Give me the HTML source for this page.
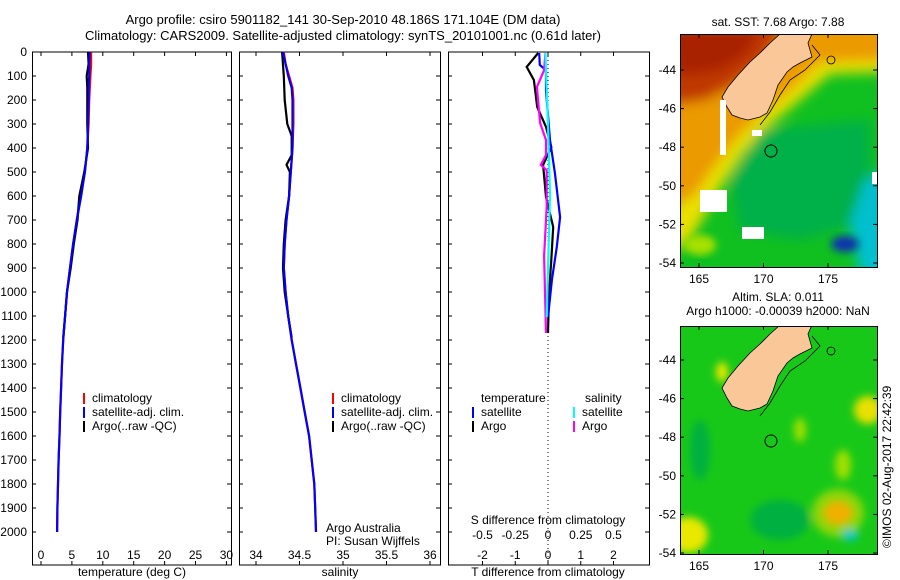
<!DOCTYPE html>
<html><head><meta charset="utf-8"><style>
html,body{margin:0;padding:0;background:#fff;}
svg{display:block;font-family:"Liberation Sans",sans-serif;font-size:12px;}
</style></head><body>
<svg id="fig" width="900" height="580" viewBox="0 0 900 580">
<defs>
<filter id="blur" x="-20%" y="-20%" width="140%" height="140%"><feGaussianBlur stdDeviation="6"/></filter>
<filter id="blur2" x="-20%" y="-20%" width="140%" height="140%"><feGaussianBlur stdDeviation="4"/></filter>
<clipPath id="m1clip"><rect x="680" y="34" width="197" height="233"/></clipPath>
<clipPath id="m2clip"><rect x="680" y="326" width="197" height="228"/></clipPath>
</defs>
<text x="343" y="24" text-anchor="middle" font-size="13">Argo profile: csiro 5901182_141 30-Sep-2010 48.186S 171.104E (DM data)</text>
<text x="343" y="40" text-anchor="middle" font-size="13">Climatology: CARS2009. Satellite-adjusted climatology: synTS_20101001.nc (0.61d later)</text>
<g id="panels"></g>
<g id="maps"></g>
<text transform="translate(891,548) rotate(-90)" font-size="12">©IMOS 02-Aug-2017 22:42:39</text>
</svg>
<script>
// ---- data ----
const depthTicks=[0,100,200,300,400,500,600,700,800,900,1000,1100,1200,1300,1400,1500,1600,1700,1800,1900,2000];
const tDepth=[0,50,100,150,200,300,400,500,600,700,800,900,1000,1100,1200,1300,1400,1500,1600,1700,1800,1900,2000];
const tClim=[8.1,8.1,8.0,7.9,7.8,7.7,7.5,7.1,6.4,5.8,5.2,4.7,4.2,3.9,3.6,3.4,3.25,3.1,3.0,2.85,2.75,2.65,2.6];
const tSat=[7.9,7.8,7.8,7.7,7.7,7.6,7.5,7.1,6.5,5.8,5.2,4.7,4.2,3.9,3.6,3.4,3.25,3.1,3.0,2.85,2.75,2.65,2.6];
const argoDepth=[0,50,100,150,200,300,400,500,600,700,800,900,1000,1100,1190];
const tArgo=[7.6,7.7,7.4,7.5,7.5,7.5,7.6,7.0,6.2,5.9,5.3,4.8,4.2,3.9,3.6];
const sDepth=[0,50,100,150,200,300,400,500,600,700,800,900,1000,1100,1200,1300,1400,1500,1600,1700,1800,1900,2000];
const sClim=[34.32,34.34,34.38,34.42,34.43,34.43,34.42,34.40,34.38,34.35,34.33,34.32,34.34,34.37,34.41,34.46,34.51,34.56,34.61,34.64,34.67,34.68,34.69];
const sSat=[34.31,34.34,34.37,34.41,34.42,34.42,34.42,34.40,34.38,34.35,34.33,34.32,34.34,34.37,34.41,34.46,34.51,34.56,34.61,34.64,34.67,34.68,34.69];
const sArgoDepth=[0,100,200,300,350,430,470,500,600,700,800,900,1000,1100,1190];
const sArgo=[34.30,34.32,34.33,34.36,34.41,34.41,34.35,34.39,34.38,34.34,34.32,34.31,34.33,34.37,34.41];
const dTArgoDepth=[4,62,117,229,312,396,471,604,729,867,1004,1171];
const dTArgo=[-0.3,-0.65,-0.43,-0.33,-0.06,0.1,-0.15,-0.06,0.16,0.1,0.03,0];
const dTSatDepth=[4,54,76,160,367,504,688,812,950,1104];
const dTSat=[-0.27,-0.25,-0.06,-0.06,0.06,0.21,0.37,0.27,0.12,0];
const dSArgoDepth=[4,76,146,296,367,429,471,492,646,850,1171];
const dSArgo=[-0.02,-0.03,-0.085,-0.06,-0.015,-0.015,-0.055,-0.01,-0.01,-0.03,-0.015];
const dSSatDepth=[4,76,300,600,1104];
const dSSat=[-0.02,-0.015,0,0.015,-0.01];
const tTicks=[0,5,10,15,20,25,30];
const sTicks=[34,34.5,35,35.5,36];
const dTTicks=[-2,-1,0,1,2];
const dSTicks=[-0.5,-0.25,0,0.25,0.5];
const dSTickLabels=["-0.5","-0.25","0","0.25","0.5"];
const lonTicks=[165,170,175];
const latTicks=[44,46,48,50,52,54];

const NS="http://www.w3.org/2000/svg";
function mk(tag,attrs,parent){const e=document.createElementNS(NS,tag);for(const k in attrs)e.setAttribute(k,attrs[k]);parent.appendChild(e);return e;}
const P=document.getElementById('panels');
const yD=d=>52+d*0.24;
const xT=v=>41+v*6.18;
const xS=v=>256+(v-34)*87;
const xDT=v=>548+v*32.75;
const xDS=v=>548+v*131;

function panel(name,x0,x1){const r=mk('rect',{x:x0,y:52,width:x1-x0,height:513,fill:'none',stroke:'#000','stroke-width':1},P);

}
panel('temperature-panel',32.5,231.5);panel('salinity-panel',239.5,440.5);panel('difference-panel',448.5,649.5);
depthTicks.forEach(d=>{
 const y=yD(d);
 const t=mk('text',{x:27,y:y+4,'text-anchor':'end'},P);t.textContent=d;
 
 
 [[32,231],[239,440],[448,649]].forEach(([a,b])=>{mk('line',{x1:a,x2:a+4,y1:y,y2:y,stroke:'#000'},P);mk('line',{x1:b-4,x2:b,y1:y,y2:y,stroke:'#000'},P);});
});
function xticks(ticks,fx,labels,ly){ticks.forEach((v,i)=>{const x=fx(v);
 mk('line',{x1:x,x2:x,y1:52,y2:56,stroke:'#000'},P);mk('line',{x1:x,x2:x,y1:561,y2:565,stroke:'#000'},P);
 const t=mk('text',{x:x,y:ly,'text-anchor':'middle'},P);t.textContent=labels?labels[i]:v;
 
 });}
xticks(tTicks,xT,null,559);xticks(sTicks,xS,null,559);xticks(dTTicks,xDT,null,559);
dSTicks.forEach((v,i)=>{const t=mk('text',{x:xDS(v),y:539,'text-anchor':'middle'},P);t.textContent=dSTickLabels[i];
 
 });
function lbl(txt,x,y,name,anchor){const t=mk('text',{x:x,y:y,'text-anchor':anchor||'middle'},P);t.textContent=txt;
 
 }
lbl('temperature (deg C)',132,576,'x-axis-title-temperature');
lbl('salinity',340,576,'x-axis-title-salinity');
lbl('T difference from climatology',548,576,'x-axis-title-t-diff');
lbl('S difference from climatology',548,524,'x-axis-title-s-diff');
lbl('Argo Australia',326,532,'credit-argo-australia','start');
lbl('PI: Susan Wijffels',326,545,'credit-pi','start');
mk('line',{x1:548,x2:548,y1:52,y2:565,stroke:'#000','stroke-dasharray':'1,3'},P);
function series(name,vals,deps,fx,color){const pts=vals.map((v,i)=>fx(v).toFixed(1)+','+yD(deps[i]).toFixed(1)).join(' ');
 const l=mk('polyline',{points:pts,fill:'none',stroke:color,'stroke-width':2.2},P);
 
 }
series('temp-climatology-line',tClim,tDepth,xT,'#f00');
series('temp-argo-line',tArgo,argoDepth,xT,'#000');
series('temp-satellite-line',tSat,tDepth,xT,'#00f');
series('sal-climatology-line',sClim,sDepth,xS,'#f00');
series('sal-argo-line',sArgo,sArgoDepth,xS,'#000');
series('sal-satellite-line',sSat,sDepth,xS,'#00f');
series('tdiff-argo-line',dTArgo,dTArgoDepth,xDT,'#000');
series('tdiff-satellite-line',dTSat,dTSatDepth,xDT,'#00f');
series('sdiff-argo-line',dSArgo,dSArgoDepth,xDS,'#f0f');
series('sdiff-satellite-line',dSSat,dSSatDepth,xDS,'#0ff');
function leg(x,y,color,txt,name){mk('line',{x1:x,x2:x,y1:y-9,y2:y+2,stroke:color,'stroke-width':2},P);
 const t=mk('text',{x:x+8,y:y},P);t.textContent=txt;
 
 }
[[84,'temp'],[333,'sal']].forEach(([x,p])=>{leg(x,402,'#f00','climatology',p+'-legend-climatology');leg(x,416,'#00f','satellite-adj. clim.',p+'-legend-satellite');leg(x,430,'#000','Argo(..raw -QC)',p+'-legend-argo');});
lbl('temperature',481,402,'diff-legend-temperature-header','start');
lbl('salinity',585,402,'diff-legend-salinity-header','start');
leg(473,416,'#00f','satellite','diff-legend-t-satellite');leg(473,430,'#000','Argo','diff-legend-t-argo');
leg(574,416,'#0ff','satellite','diff-legend-s-satellite');leg(574,430,'#f0f','Argo','diff-legend-s-argo');

// ---- maps ----
const M=document.getElementById('maps');
const xLon=l=>699+(l-165)*12.9;
function landPts(dy){return [[780,34],[812,34],[808,43],[812,57],[800,63],[793,67],[787,72],[778,85],[773,100],[767,113],[760,117],[748,120],[740,118],[732,115],[727,107],[722,97],[728,87],[738,75],[750,62],[760,53],[770,43]].map(p=>p[0]+','+(p[1]+dy)).join(' ');}
function mapFrame(name,top,bot,lat44){
 const r=mk('rect',{x:680.5,y:top+0.5,width:197,height:bot-top,fill:'none',stroke:'#000'},M);
 
 
 lonTicks.forEach(l=>{const x=xLon(l);mk('line',{x1:x,x2:x,y1:top,y2:top+4,stroke:'#000'},M);mk('line',{x1:x,x2:x,y1:bot-4,y2:bot,stroke:'#000'},M);
  const t=mk('text',{x:x,y:bot+16,'text-anchor':'middle'},M);t.textContent=l;
  
  });
 latTicks.forEach(l=>{const y=lat44+(l-44)*19.3;mk('line',{x1:680,x2:684,y1:y,y2:y,stroke:'#000'},M);mk('line',{x1:873,x2:877,y1:y,y2:y,stroke:'#000'},M);
  const t=mk('text',{x:676,y:y+4,'text-anchor':'end'},M);t.textContent='-'+l;
  
  });
}
let g=mk('g',{'clip-path':'url(#m1clip)'},M);
mk('rect',{x:680,y:34,width:197,height:233,fill:'#10c020'},g);
let b=mk('g',{filter:'url(#blur)'},g);
mk('polygon',{points:'670,20 890,20 890,72 830,74 800,100 770,125 745,150 722,185 705,215 690,240 670,255',fill:'#e8e000'},b);
mk('polygon',{points:'670,20 890,20 890,60 820,62 790,90 760,115 735,140 712,170 695,195 670,210',fill:'#eb9a00'},b);
mk('polygon',{points:'670,20 790,20 765,60 735,85 705,100 670,105',fill:'#c03800'},b);
mk('polygon',{points:'670,30 760,30 745,55 720,70 690,75 670,70',fill:'#a82000'},b);
mk('polygon',{points:'760,130 870,120 870,220 800,240 740,230 730,180',fill:'#00b048'},b);
mk('polygon',{points:'895,165 865,180 850,225 860,275 895,275',fill:'#00c0d0'},b);
b=mk('g',{filter:'url(#blur2)'},g);
mk('ellipse',{cx:845,cy:244,rx:14,ry:8,fill:'#1030b0'},b);
mk('ellipse',{cx:700,cy:245,rx:16,ry:10,fill:'#a8e000'},b);
mk('polygon',{points:landPts(0),fill:'#fac898',stroke:'#000','stroke-width':0.8},g);
[[720,100,6,55],[700,190,27,22],[742,227,22,12],[752,130,10,6],[872,172,6,12]].forEach(r=>mk('rect',{x:r[0],y:r[1],width:r[2],height:r[3],fill:'#fff'},g));
mk('polyline',{points:'812,45 820,55 805,70 790,80 780,95 770,112 760,125',fill:'none',stroke:'#000','stroke-width':0.8},g);
mk('circle',{cx:831,cy:60,r:4,fill:'none',stroke:'#000','stroke-width':0.8},g);
mk('circle',{cx:771,cy:151,r:6,fill:'none',stroke:'#000','stroke-width':1},g);
mapFrame('sst-map',34,267,70);
lbl('sat. SST: 7.68 Argo: 7.88',778,26,'sst-map-title');
g=mk('g',{'clip-path':'url(#m2clip)'},M);
mk('rect',{x:680,y:326,width:197,height:228,fill:'#18c818'},g);
b=mk('g',{filter:'url(#blur2)'},g);
mk('ellipse',{cx:838,cy:513,rx:26,ry:24,fill:'#d8e000',opacity:0.6},b);
mk('ellipse',{cx:838,cy:513,rx:15,ry:12,fill:'#f0b000'},b);
mk('ellipse',{cx:868,cy:410,rx:14,ry:14,fill:'#e8e000'},b);
mk('ellipse',{cx:843,cy:465,rx:8,ry:15,fill:'#a0e000'},b);
mk('ellipse',{cx:800,cy:430,rx:6,ry:12,fill:'#a0e000'},b);
mk('ellipse',{cx:688,cy:535,rx:20,ry:18,fill:'#e8e800'},b);
mk('ellipse',{cx:722,cy:372,rx:6,ry:10,fill:'#e8e800'},b);
mk('ellipse',{cx:850,cy:535,rx:8,ry:6,fill:'#00c8c8'},b);
mk('ellipse',{cx:700,cy:450,rx:10,ry:30,fill:'#00b040'},b);
mk('ellipse',{cx:780,cy:520,rx:30,ry:20,fill:'#00b040'},b);
mk('polygon',{points:landPts(291),fill:'#fac898',stroke:'#000','stroke-width':0.8},g);
mk('polyline',{points:'812,336 820,346 805,361 790,371 780,386 770,403 760,416',fill:'none',stroke:'#000','stroke-width':0.8},g);
mk('circle',{cx:831,cy:351,r:4,fill:'none',stroke:'#000','stroke-width':0.8},g);
mk('circle',{cx:771,cy:441,r:6,fill:'none',stroke:'#000','stroke-width':1},g);
mapFrame('sla-map',326,554,360);
lbl('Altim. SLA: 0.011',778,301,'sla-map-title-1');
lbl('Argo h1000: -0.00039 h2000: NaN',778,315,'sla-map-title-2');
</script>
</body></html>
